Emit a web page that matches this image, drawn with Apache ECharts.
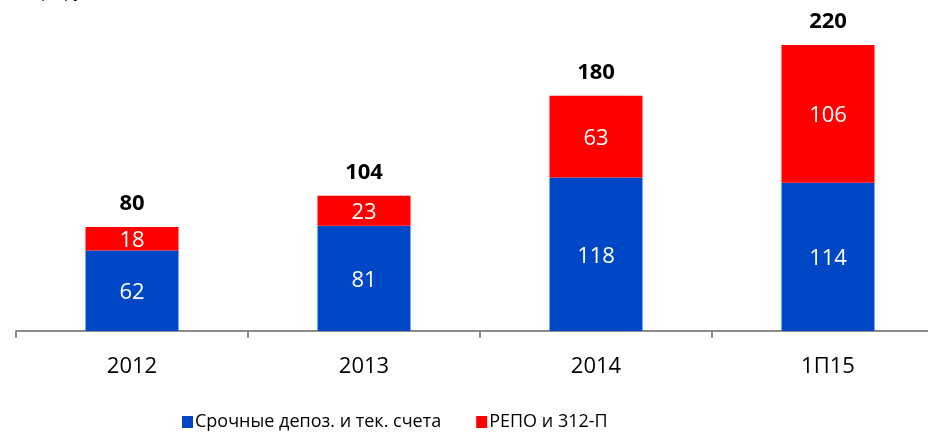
<!DOCTYPE html>
<html><head><meta charset="utf-8">
<script src="https://cdn.jsdelivr.net/npm/echarts@6/dist/echarts.min.js"></script>
<style>html,body{margin:0;padding:0;background:#fff;overflow:hidden;width:928px;height:435px}#c{width:944px;height:435px}</style>
</head><body><div id="c"></div>
<script>
var categories = ['2012', '2013', '2014', '1П15'];
var deposits = [62, 81, 118, 114];
var repo = [18, 23, 63, 106];
var totals = [80, 104, 180, 220];
var seriesNames = ['Срочные депоз. и тек. счета', 'РЕПО и 312-П'];
var unitLabel = 'млрд руб.';

var FONT = '"Open Sans", sans-serif';
var chart = echarts.init(document.getElementById('c'));
chart.setOption({
  animation: false,
  textStyle: {fontFamily: FONT},
  graphic: [{type: 'text', left: 20, top: -16, style: {text: unitLabel, font: '16px ' + FONT, fill: '#000'}}],
  grid: {left: 16, right: 0, top: 6, bottom: 104, containLabel: false},
  legend: {
    bottom: -1, left: 177, itemWidth: 11, itemHeight: 12, itemGap: 35,
    icon: 'rect',
    textStyle: {fontSize: 18, color: '#000', fontFamily: FONT, padding: [0, 0, 0, -3]},
    data: seriesNames
  },
  xAxis: {
    type: 'category', data: categories,
    axisLine: {lineStyle: {color: '#8c8c8c', width: 2}},
    axisTick: {show: true, length: 7, lineStyle: {color: '#8c8c8c', width: 2}},
    axisLabel: {fontSize: 22, color: '#000', margin: 25, fontFamily: FONT}
  },
  yAxis: {type: 'value', min: 0, max: 250, show: false, splitLine: {show: false}},
  series: [
    {name: seriesNames[0], type: 'bar', stack: 's', data: deposits, barWidth: 93,
     itemStyle: {color: '#0047C8'},
     label: {show: true, position: 'inside', offset: [0, 2], color: '#fff', fontSize: 22, fontFamily: FONT}},
    {name: seriesNames[1], type: 'bar', stack: 's', data: repo, barWidth: 93,
     itemStyle: {color: '#FF0000'},
     label: {show: true, position: 'inside', offset: [0, 2], color: '#fff', fontSize: 22, fontFamily: FONT}},
    {name: 'total', type: 'bar', stack: 's', data: totals.map(function(){return 0;}), barWidth: 93,
     itemStyle: {color: 'transparent'},
     label: {show: true, position: 'top', distance: 12, color: '#000', fontSize: 22, fontWeight: 'bold', fontFamily: FONT,
       formatter: function(p){ return totals[p.dataIndex]; }}}
  ]
});
</script></body></html>
